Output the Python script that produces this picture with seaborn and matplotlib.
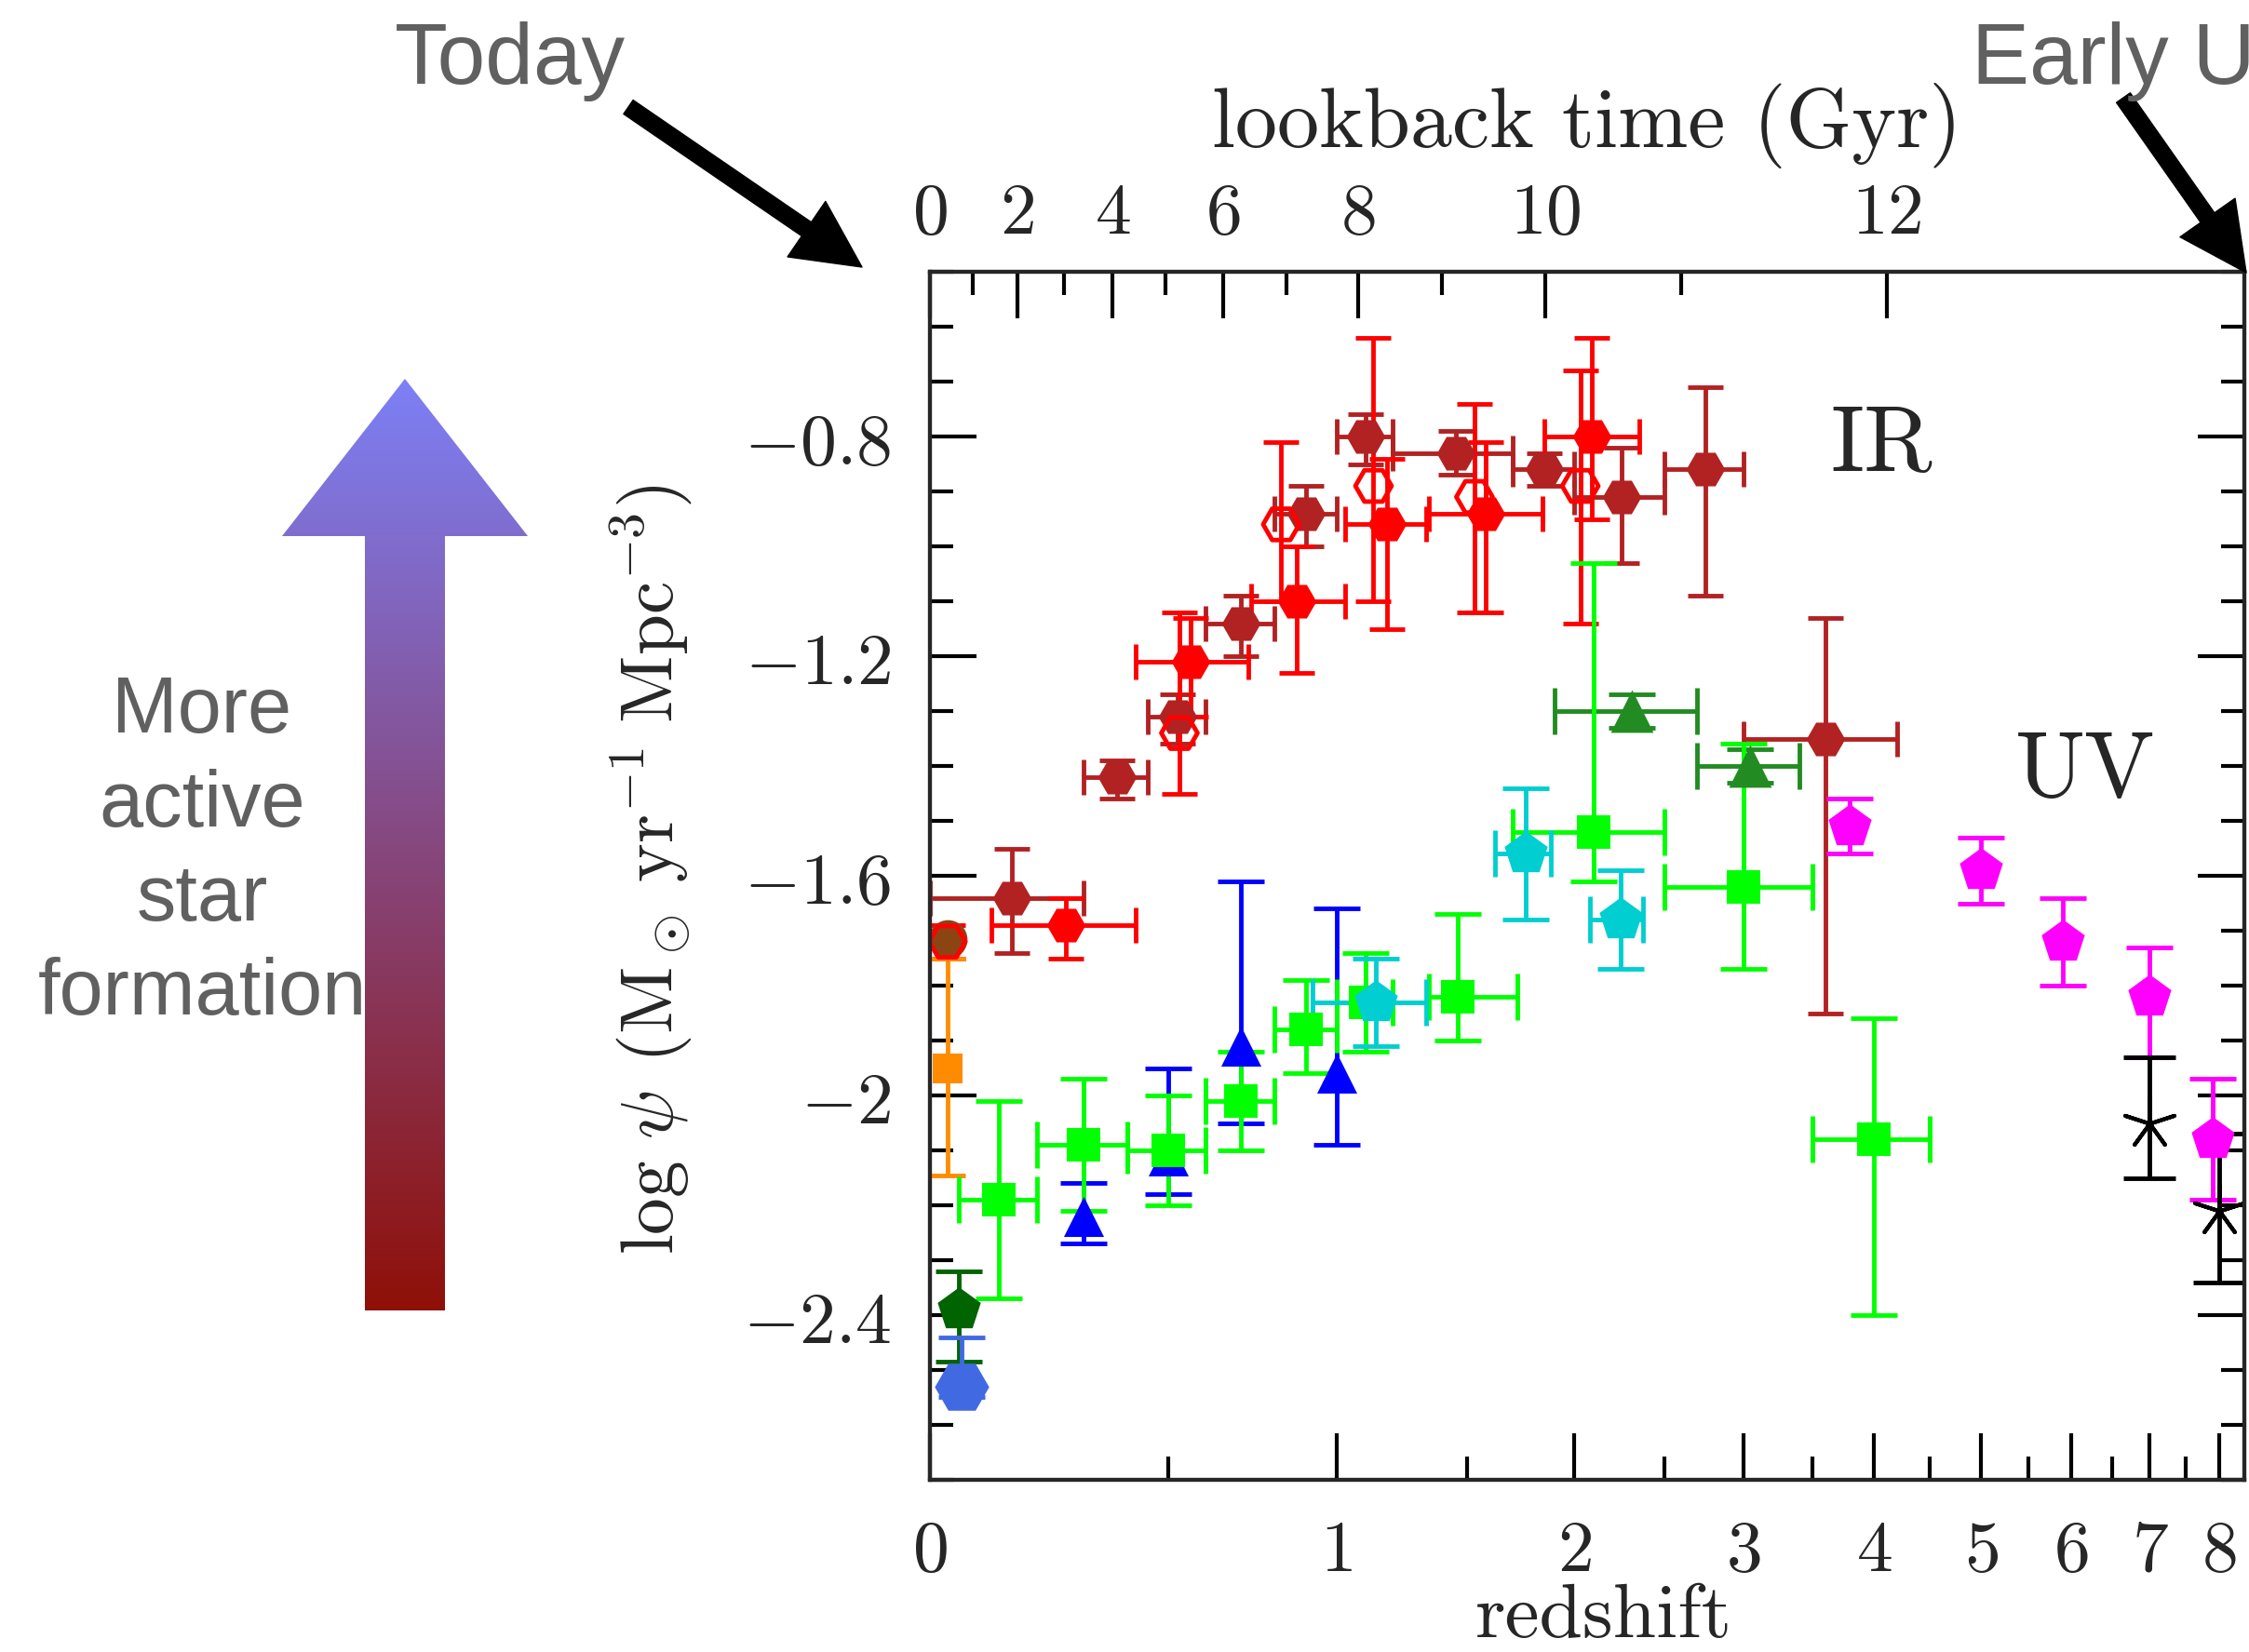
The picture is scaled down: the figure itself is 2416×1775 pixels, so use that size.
import numpy as np
import matplotlib
matplotlib.use("Agg")
import matplotlib.pyplot as plt
from matplotlib.patches import Polygon, FancyArrowPatch
from matplotlib.ticker import MultipleLocator, FuncFormatter, FixedLocator
import seaborn as sns

# ------------------------------------------------------------------
# Cosmic star-formation-rate density, log psi [Msun yr^-1 Mpc^-3]
# ------------------------------------------------------------------
# IR: filled firebrick hexagons (binned in redshift)
irA_z   = [0.15, 0.375, 0.525, 0.70, 0.90, 1.10, 1.45, 1.85, 2.25, 2.75, 3.60]
irA_zlo = [0.00, 0.30, 0.45, 0.60, 0.80, 1.00, 1.20, 1.70, 2.00, 2.50, 3.00]
irA_zhi = [0.30, 0.45, 0.60, 0.80, 1.00, 1.20, 1.70, 2.00, 2.50, 3.00, 4.20]
irA_psi = [-1.64, -1.42, -1.31, -1.14, -0.94, -0.80, -0.83, -0.86, -0.91, -0.86, -1.35]
irA_up  = [0.09, 0.03, 0.04, 0.05, 0.05, 0.04, 0.04, 0.03, 0.09, 0.15, 0.22]
irA_dn  = [0.10, 0.04, 0.05, 0.06, 0.06, 0.05, 0.04, 0.03, 0.12, 0.23, 0.50]

# IR: filled red hexagons
irB_z   = [0.26, 0.56, 0.87, 1.18, 1.58, 2.09]
irB_zlo = [0.11, 0.42, 0.73, 1.03, 1.34, 1.85]
irB_zhi = [0.42, 0.72, 1.03, 1.33, 1.84, 2.35]
irB_psi = [-1.69, -1.21, -1.10, -0.96, -0.94, -0.80]
irB_up  = [0.05, 0.08, 0.10, 0.12, 0.13, 0.18]
irB_dn  = [0.06, 0.10, 0.13, 0.19, 0.18, 0.15]

# IR: open red hexagons
irC_z   = [0.03, 0.53, 0.82, 1.13, 1.53, 2.03]
irC_psi = [-1.72, -1.34, -0.96, -0.89, -0.91, -0.89]
irC_up  = [0.03, 0.22, 0.15, 0.27, 0.17, 0.21]
irC_dn  = [0.03, 0.11, 0.14, 0.21, 0.21, 0.25]

# local IR estimate: saddle-brown circle
irD_z   = [0.03]
irD_psi = [-1.715]

# local orange square
loc_or_z   = [0.03]
loc_or_psi = [-1.95]
loc_or_up  = [0.20]
loc_or_dn  = [0.195]

# UV: lime squares
uvA_z   = [0.125, 0.30, 0.50, 0.70, 0.90, 1.10, 1.46, 2.10, 3.00, 4.00]
uvA_zlo = [0.05, 0.20, 0.40, 0.60, 0.80, 1.00, 1.34, 1.70, 2.50, 3.50]
uvA_zhi = [0.20, 0.40, 0.60, 0.80, 1.00, 1.20, 1.72, 2.50, 3.50, 4.50]
uvA_psi = [-2.19, -2.09, -2.10, -2.01, -1.88, -1.83, -1.82, -1.52, -1.62, -2.08]
uvA_up  = [0.18, 0.12, 0.10, 0.09, 0.09, 0.09, 0.15, 0.49, 0.26, 0.22]
uvA_dn  = [0.18, 0.12, 0.10, 0.09, 0.08, 0.09, 0.08, 0.09, 0.15, 0.32]

# UV: blue triangles
uvB_z   = [0.30, 0.50, 0.70, 1.00]
uvB_psi = [-2.22, -2.11, -1.91, -1.96]
uvB_up  = [0.06, 0.16, 0.30, 0.30]
uvB_dn  = [0.05, 0.07, 0.14, 0.13]

# UV: cyan pentagons
uvC_z   = [1.14, 1.76, 2.245]
uvC_zlo = [0.92, 1.62, 2.08]
uvC_zhi = [1.33, 1.88, 2.37]
uvC_psi = [-1.83, -1.56, -1.68]
uvC_up  = [0.08, 0.12, 0.09]
uvC_dn  = [0.08, 0.12, 0.09]

# UV: forest-green triangles
uvD_z   = [2.31, 3.05]
uvD_zlo = [1.90, 2.70]
uvD_zhi = [2.70, 3.40]
uvD_psi = [-1.30, -1.40]
uvD_up  = [0.03, 0.03]
uvD_dn  = [0.03, 0.03]

# UV: magenta pentagons
uvE_z   = [3.8, 5.0, 5.9, 7.0, 7.9]
uvE_psi = [-1.51, -1.59, -1.72, -1.82, -2.08]
uvE_up  = [0.05, 0.06, 0.08, 0.09, 0.11]
uvE_dn  = [0.05, 0.06, 0.08, 0.11, 0.11]

# UV: black asterisks
uvF_z   = [7.0, 8.0]
uvF_psi = [-2.05, -2.21]
uvF_up  = [0.12, 0.14]
uvF_dn  = [0.10, 0.13]

# local UV: dark-green pentagon and royal-blue hexagon
uvG_z   = [0.05]
uvG_psi = [-2.39]
uvG_up  = [0.07]
uvG_dn  = [0.095]

uvH_z   = [0.055]
uvH_psi = [-2.53]
uvH_up  = [0.09]
uvH_dn  = [0.02]

# axis ticks
z_ticks        = [0, 1, 2, 3, 4, 5, 6, 7, 8]
z_minor_ticks  = [0.5, 1.5, 2.5, 3.5, 4.5, 5.5, 6.5, 7.5]
lookback_major = [0, 2, 4, 6, 8, 10, 12]
lookback_minor = [1, 3, 5, 7, 9, 11, 13]

# ------------------------------------------------------------------
# flat LCDM (H0 = 70, Om = 0.3) for the lookback-time axis
HUBBLE_TIME = 977.8 / 70.0
OMEGA_M, OMEGA_L = 0.3, 0.7
_pref = 2.0 / (3.0 * np.sqrt(OMEGA_L)) * HUBBLE_TIME
_ratio = np.sqrt(OMEGA_L / OMEGA_M)


def cosmic_age(z):
    return _pref * np.arcsinh(_ratio * (1.0 + np.asarray(z, float)) ** -1.5)


T0 = cosmic_age(0.0)


def z_at_lookback(t):
    return (_ratio / np.sinh((T0 - np.asarray(t, float)) / _pref)) ** (2.0 / 3.0) - 1.0


def fwd(z):
    return np.log10(1.0 + np.asarray(z, float))


def inv(l):
    return 10.0 ** np.asarray(l, float) - 1.0


# ------------------------------------------------------------------
sns.set_theme(style="ticks")
plt.rcParams["mathtext.fontset"] = "cm"
plt.rcParams["font.family"] = ["DejaVu Sans"]

W, H = 2416, 1775
fig = plt.figure(figsize=(W / 100, H / 100), dpi=100)
fig.patch.set_facecolor("white")

ax_l, ax_r, ax_t, ax_b = 999, 2411, 292, 1590
ax = fig.add_axes([ax_l / W, (H - ax_b) / H, (ax_r - ax_l) / W, (ax_b - ax_t) / H])
ax.set_facecolor("white")
ax.set_xscale("function", functions=(fwd, inv))

ELW = 3.5


def draw_set(z, psi, up, dn, color, marker, ms, zlo=None, zhi=None,
             cap=14, filled=True, lw=ELW, mlw=0):
    z = np.asarray(z, float)
    xerr = None
    if zlo is not None:
        xerr = [z - np.asarray(zlo, float), np.asarray(zhi, float) - z]
    yerr = None if up is None else [dn, up]
    ax.errorbar(z, psi, yerr=yerr, xerr=xerr, fmt="none", ecolor=color,
                elinewidth=lw, capsize=cap, capthick=lw, zorder=3)
    if filled:
        sns.scatterplot(x=z, y=psi, marker=marker, s=ms ** 2, color=color,
                        edgecolor=color, linewidth=mlw, ax=ax, zorder=4,
                        legend=False)
    else:
        ax.scatter(z, psi, marker=marker, s=ms ** 2, facecolors="none",
                   edgecolors=color, linewidths=3.5, zorder=4)


IRC = 14
UVC = 18
# IR
draw_set(irA_z, irA_psi, irA_up, irA_dn, "#B22222", "H", 30, irA_zlo, irA_zhi, IRC)
draw_set(irB_z, irB_psi, irB_up, irB_dn, "#FF0000", "H", 30, irB_zlo, irB_zhi, IRC)
draw_set(irD_z, irD_psi, None, None, "#8B4513", "o", 30)
draw_set(irC_z, irC_psi, irC_up, irC_dn, "#FF0000", "H", 28, cap=IRC, filled=False)
draw_set(loc_or_z, loc_or_psi, loc_or_up, loc_or_dn, "#FF8C00", "s", 23, cap=IRC)
# UV
draw_set(uvB_z, uvB_psi, uvB_up, uvB_dn, "#0000FF", "^", 31, cap=UVC)
draw_set(uvD_z, uvD_psi, uvD_up, uvD_dn, "#228B22", "^", 33, uvD_zlo, uvD_zhi, UVC)
draw_set(uvA_z, uvA_psi, uvA_up, uvA_dn, "#00FF00", "s", 26, uvA_zlo, uvA_zhi, UVC)
draw_set(uvC_z, uvC_psi, uvC_up, uvC_dn, "#00CED1", "p", 35, uvC_zlo, uvC_zhi, UVC)
draw_set(uvE_z, uvE_psi, uvE_up, uvE_dn, "#FF00FF", "p", 35, cap=UVC)
draw_set(uvF_z, uvF_psi, uvF_up, uvF_dn, "#000000", (5, 2, 0), 40, cap=20, mlw=3)
draw_set(uvG_z, uvG_psi, uvG_up, uvG_dn, "#006400", "p", 35, cap=UVC)
draw_set(uvH_z, uvH_psi, uvH_up, uvH_dn, "#4169E1", "H", 42, cap=UVC)

ax.set_xlim(0, 8.4)
ax.set_ylim(-2.7, -0.5)

SPW = 3.0
TICK_FS = 56
for s in ax.spines.values():
    s.set_linewidth(SPW)
    s.set_color("black")

ax.xaxis.set_major_locator(FixedLocator(z_ticks))
ax.xaxis.set_minor_locator(FixedLocator(z_minor_ticks))
ax.xaxis.set_major_formatter(FuncFormatter(lambda v, p: f"${v:g}$"))
ax.yaxis.set_major_locator(MultipleLocator(0.4))
ax.yaxis.set_minor_locator(MultipleLocator(0.1))
ax.yaxis.set_major_formatter(FuncFormatter(lambda v, p: f"${v:g}$"))

ax.tick_params(axis="both", which="both", direction="in", color="black",
               width=SPW, left=True, right=True, bottom=True, top=False)
ax.tick_params(axis="both", which="major", length=36, labelsize=TICK_FS)
ax.tick_params(axis="both", which="minor", length=18)
ax.tick_params(axis="x", which="major", pad=27)
ax.tick_params(axis="y", which="major", pad=30)

LABEL_FONT = "cmr10"
ax.set_xlabel("redshift", fontsize=60, family=LABEL_FONT)
ax.xaxis.set_label_coords(0.513, -0.130, transform=ax.transAxes)
ax.xaxis.label.set_va("baseline")
ax.set_ylabel(r"$\log\,\psi\;\,(\mathrm{M}_\odot\;\mathrm{yr}^{-1}\;\mathrm{Mpc}^{-3})$",
              fontsize=57)
ax.yaxis.set_label_coords(-0.18, 0.505)
ax.grid(False)

# lookback-time axis on top
ax2 = ax.twiny()
ax2.set_xscale("function", functions=(fwd, inv))
ax2.set_xlim(ax.get_xlim())
zmax = ax.get_xlim()[1]
maj_z = z_at_lookback(lookback_major)
min_t = [t for t in lookback_minor if z_at_lookback(t) < zmax]
ax2.xaxis.set_major_locator(FixedLocator(maj_z))
ax2.xaxis.set_minor_locator(FixedLocator(z_at_lookback(min_t)))
ax2.set_xticklabels([f"${t}$" for t in lookback_major])
ax2.tick_params(axis="x", which="both", direction="in", color="black", width=SPW,
                top=True, bottom=False)
ax2.tick_params(axis="x", which="major", length=36, labelsize=TICK_FS, pad=18)
ax2.tick_params(axis="x", which="minor", length=18)
for s in ax2.spines.values():
    s.set_linewidth(SPW)
ax2.set_xlabel("lookback time (Gyr)", fontsize=65, family=LABEL_FONT)
ax2.xaxis.set_label_coords(0.50, 1.103, transform=ax.transAxes)
ax2.xaxis.label.set_va("baseline")
ax2.grid(False)

# band labels
ax.text(0.724, 0.836, "IR", transform=ax.transAxes, fontsize=72,
        family=LABEL_FONT, ha="center", va="baseline")
ax.text(0.879, 0.566, "UV", transform=ax.transAxes, fontsize=72,
        family=LABEL_FONT, ha="center", va="baseline")

# ------------------------------------------------------------------
# annotation layer in pixel coordinates
ov = fig.add_axes([0, 0, 1, 1])
ov.set_xlim(0, W)
ov.set_ylim(H, 0)
ov.axis("off")

GREY = "#606060"
ANN_FONT = ["Liberation Sans", "DejaVu Sans"]
ov.text(548, 90, "Today", fontsize=67, color=GREY, family=ANN_FONT,
        ha="center", va="baseline")
ov.text(2118, 90, "Early Universe", fontsize=67, color=GREY, family=ANN_FONT,
        ha="left", va="baseline")
for txt, yb in zip(["More", "active", "star", "formation"], [787, 888, 989, 1090]):
    ov.text(217, yb, txt, fontsize=61, color=GREY, family=ANN_FONT,
            ha="center", va="baseline")

arrow_style = "simple,head_length=52,head_width=52,tail_width=13"
ov.add_patch(FancyArrowPatch((675, 115), (926, 287), arrowstyle=arrow_style,
                             mutation_scale=1, color="black", shrinkA=0, shrinkB=0))
ov.add_patch(FancyArrowPatch((2281, 105), (2413, 293), arrowstyle=arrow_style,
                             mutation_scale=1, color="black", shrinkA=0, shrinkB=0))

# gradient arrow: light violet at the tip fading to dark red at the base
arrow_verts = [(392, 1408), (392, 576), (303, 576), (435, 407),
               (567, 576), (478, 576), (478, 1408)]
shape = Polygon(arrow_verts, closed=True, facecolor="none", edgecolor="none")
ov.add_patch(shape)
top_rgb = np.array([125, 128, 246]) / 255.0
bot_rgb = np.array([143, 16, 8]) / 255.0
frac = np.linspace(0, 1, 256)[:, None]
grad = (top_rgb[None, :] * (1 - frac) + bot_rgb[None, :] * frac)[:, None, :]
im = ov.imshow(grad, extent=(303, 567, 1408, 407), aspect="auto",
               interpolation="bilinear", origin="upper")
im.set_clip_path(shape)
ov.set_xlim(0, W)
ov.set_ylim(H, 0)

fig.savefig("out.png", dpi=100, facecolor="white")
